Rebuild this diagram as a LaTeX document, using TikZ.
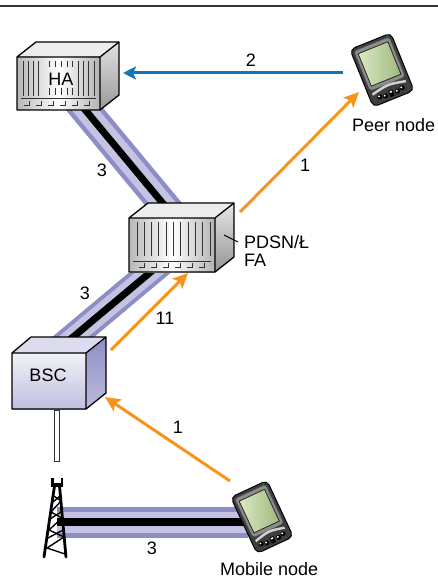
\documentclass[tikz,border=0pt]{standalone}
\usepackage{fontspec}
\setmainfont{Liberation Sans}
\usetikzlibrary{arrows.meta}
\definecolor{orng}{HTML}{F7941D}
\definecolor{blu}{HTML}{0D76BD}
\definecolor{lavd}{HTML}{8E8EC6}
\definecolor{lavl}{HTML}{C4C4E2}
\definecolor{lavf}{HTML}{F2F2F8}
\definecolor{scrA}{HTML}{DCE8C4}
\definecolor{scrB}{HTML}{9DBA7E}
\definecolor{pdabody}{HTML}{3E3E3E}
\definecolor{pdaframe}{HTML}{8C8C8C}
\newcommand{\pdadevice}[4]{%
\begin{scope}[shift={(#1,#2)},rotate=#3]
 \draw[line width=1, fill=pdabody, rounded corners=5] (-#4,-31) rectangle (#4,31);
 \draw[draw=black!70, fill=pdaframe, rounded corners=3] (-#4+3,-28) rectangle (#4-3,15);
 \draw[draw=black!85, line width=0.8, left color=scrA, right color=scrB] (-#4+6,-24) rectangle (#4-6,11);
 \fill[black!18] (-#4+4,18) .. controls (0,14) .. (#4-4,18) -- (#4-4,20.5) .. controls (0,16.5) .. (-#4+4,20.5) -- cycle;
 \foreach \bx/\by in {-12/24,-6.5/25.5,6.5/25.5,12/24}{
   \fill[black] (\bx,\by) circle (2.6);
   \fill[white] (\bx-0.6,\by-0.7) circle (1.1);}
 \fill[black] (-2.2,22) rectangle (2.2,28.5);
 \fill[white] (-1.2,22.8) rectangle (1.2,24.3);
 \fill[green!55!black] (#4-5,-29.5) circle (1.3);
\end{scope}}
\tikzset{
 lbl/.style={font=\fontsize{18}{20}\selectfont, inner sep=0pt},
 oarrow/.style={draw=orng, line width=3, -{Stealth[length=15,width=14,inset=3]}},
 barrow/.style={draw=blu, line width=3, -{Stealth[length=13,width=13,inset=3]}},
 cabo/.style={draw=lavd, line width=#1},
 cabi/.style={draw=lavl, line width=#1},
 cabk/.style={draw=black, line width=#1},
 ridge/.style={draw=black!80, line width=1},
 boxedge/.style={draw=black, line width=1.3, line join=round},
}
\begin{document}
\begin{tikzpicture}[x=1pt,y=-1pt]
\useasboundingbox (0,0) rectangle (438,580);
\draw[line width=1.5, black!80] (0,6) -- (438,6);

% ---- cables
\coordinate (c1a) at (72,94);  \coordinate (c1b) at (175,218);
\coordinate (c2a) at (165,260); \coordinate (c2b) at (54,353);
\coordinate (c3a) at (57,522);  \coordinate (c3b) at (248,522);
\draw[cabo=30] (c1a) -- (c1b); \draw[cabi=21] (c1a) -- (c1b); \draw[cabk=7] (c1a) -- (c1b);
\draw[cabo=27] (c2a) -- (c2b); \draw[cabi=19] (c2a) -- (c2b); \draw[cabk=7] (c2a) -- (c2b);
\draw[cabo=31] (c3a) -- (c3b); \draw[cabi=21] (c3a) -- (c3b); \draw[cabk=8] (c3a) -- (c3b);

% ---- HA box
\fill[black!7] (17,57) -- (36,42) -- (119,42) -- (100,57) -- cycle;
\shade[top color=black!12, bottom color=black!40] (100,57) -- (119,42) -- (119,95) -- (100,110) -- cycle;
\shade[left color=black!28, right color=black!30, middle color=white] (17,57) rectangle (100,110);
\draw[boxedge] (17,57) -- (36,42) -- (119,42) -- (119,95) -- (100,110) -- (17,110) -- cycle;
\draw[boxedge] (17,57) -- (100,57) -- (119,42) (100,57) -- (100,110);
\foreach \x in {23,28,33,38,78,83,88,94} \draw[ridge] (\x,61) -- (\x,96);
\foreach \x in {49,55,61,67,72} {\draw[ridge] (\x,61) -- (\x,67); \draw[ridge] (\x,88) -- (\x,95);}
\draw[ridge] (21,99) -- (96,99);
\foreach \x in {29,41,53,65,77,89} \draw[black!80, line width=0.8] (\x-5,105) -- (\x,105) -- (\x,101);
\node[lbl] (HA) at (61,79) {HA};

% ---- PDSN box
\fill[black!7] (129,218) -- (148,203) -- (234,203) -- (215,218) -- cycle;
\shade[top color=black!10, bottom color=black!42] (215,218) -- (234,203) -- (234,257) -- (215,272) -- cycle;
\shade[left color=black!28, right color=black!30, middle color=white] (129,218) rectangle (215,272);
\draw[boxedge] (129,218) -- (148,203) -- (234,203) -- (234,257) -- (215,272) -- (129,272) -- cycle;
\draw[boxedge] (129,218) -- (215,218) -- (234,203) (215,218) -- (215,272);
\foreach \i in {0,...,10} \draw[ridge] (137+\i*7.3,222) -- (137+\i*7.3,256);
\draw[ridge] (133,261) -- (211,261);
\foreach \x in {144,156,168,180,192,204} \draw[black!80, line width=0.8] (\x-5,267) -- (\x,267) -- (\x,263);
\node[minimum size=2pt, inner sep=0pt] (PDSN) at (172,245) {};
\draw[black, line width=1] (224,235) -- (238,242);
\node[lbl, anchor=base west, align=left] (pdsnlbl) at (244,248) {PDSN/Ł};
\node[lbl, anchor=base west] (falbl) at (244,266) {FA};

% ---- BSC box
\fill[lavl!60!white] (12,353) -- (31,337) -- (106,337) -- (86,353) -- cycle;
\shade[top color=lavd, bottom color=lavd!60!white] (86,353) -- (106,337) -- (106,393) -- (86,409) -- cycle;
\shade[top color=lavf, bottom color=lavl!90!lavd] (12,353) rectangle (86,409);
\draw[boxedge] (12,353) -- (31,337) -- (106,337) -- (106,393) -- (86,409) -- (12,409) -- cycle;
\draw[boxedge] (12,353) -- (86,353) -- (106,337) (86,353) -- (86,409);
\node[lbl] (BSC) at (48,375) {BSC};

% ---- antenna pole and tower
\coordinate (poleTop) at (57,410); \coordinate (poleBot) at (57,462);
\draw[line width=6.5, black!80] (poleTop) -- (poleBot);
\draw[line width=3.5, white] ([yshift=-1pt]poleTop) -- ([yshift=1pt]poleBot);
\begin{scope}[line cap=round, line join=round]
 \fill[black] (51,483) rectangle (63,487);
 \fill[black] (51,478) rectangle (53.5,484);
 \fill[black] (60.5,478) rectangle (63,484);
 \draw[line width=2.8] (54.5,486) -- (44,557);
 \draw[line width=2.8] (59.5,486) -- (66,557);
 \draw[line width=1.4] (54,496) -- (61,501) -- (51,512) -- (62,518) -- (49,530) -- (64,537) -- (47,548) -- (65,554);
 \draw[line width=1.4] (60,496) -- (53,502) (61,512) -- (50,519) (63,530) -- (48,538);
\end{scope}
\node[inner sep=0pt, minimum size=1pt] (tower) at (57,520) {};

% ---- PDAs
\pdadevice{382}{70}{22}{22}
\node[inner sep=0pt, minimum size=1pt] (peer) at (382,70) {};
\node[lbl, anchor=base west] (peerlbl) at (352,132) {Peer node};
\pdadevice{262}{517}{25}{20}
\node[inner sep=0pt, minimum size=1pt] (mobile) at (262,517) {};
\node[lbl, anchor=base west] (moblbl) at (220,575) {Mobile node};

% ---- arrows
\coordinate (peerOut) at (343,73); \coordinate (haIn) at (123,73);
\coordinate (pdsnOut) at (240,212); \coordinate (peerIn) at (359,92);
\coordinate (bscOut) at (111,350); \coordinate (pdsnIn) at (188,273);
\coordinate (mobOut) at (230,481); \coordinate (bscIn) at (105,397);
\draw[barrow] (peerOut) -- (haIn);
\draw[oarrow] (pdsnOut) -- (peerIn);
\draw[oarrow] (bscOut) -- (pdsnIn);
\draw[oarrow] (mobOut) -- (bscIn);

% ---- labels
\node[lbl] (l2) at (251,60) {2};
\node[lbl] (l1a) at (305,165) {1};
\node[lbl] (l3a) at (102,170) {3};
\node[lbl] (l3b) at (85,293) {3};
\node[lbl] (l11) at (165,318) {11};
\node[lbl] (l1b) at (178,427) {1};
\node[lbl] (l3c) at (152,548) {3};
\end{tikzpicture}
\end{document}
